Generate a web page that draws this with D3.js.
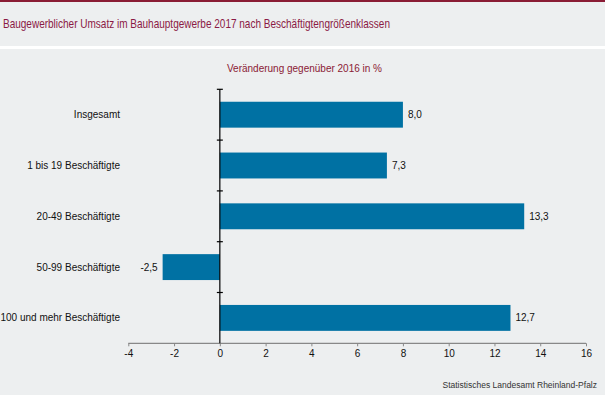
<!DOCTYPE html>
<html>
<head>
<meta charset="utf-8">
<script src="https://cdn.jsdelivr.net/npm/d3@7"></script>
<style>
  html, body { margin: 0; padding: 0; background: #fff; }
  svg { display: block; font-family: "Liberation Sans", Arial, sans-serif; }
</style>
</head>
<body>
<script>
const categories = ["Insgesamt", "1 bis 19 Beschäftigte", "20-49 Beschäftigte", "50-99 Beschäftigte", "100 und mehr Beschäftigte"];
const values = [8.0, 7.3, 13.3, -2.5, 12.7];
const xTicks = [-4, -2, 0, 2, 4, 6, 8, 10, 12, 14, 16];

const W = 605, H = 395;
const bg = "#edeff0";
const fmt = d => d3.format(".1f")(d).replace(".", ",").replace("\u2212", "-");

const svg = d3.select("body").append("svg")
  .attr("width", W)
  .attr("height", H);

// title block
svg.append("rect").attr("x", 0).attr("y", 0).attr("width", W).attr("height", H).attr("fill", "#fff");
svg.append("rect").attr("x", 0).attr("y", 0).attr("width", W).attr("height", 46).attr("fill", bg);
svg.append("rect").attr("x", 0).attr("y", 0).attr("width", W).attr("height", 2).attr("fill", "#8a1c35");
svg.append("rect").attr("x", 0).attr("y", 49).attr("width", W).attr("height", H - 49).attr("fill", bg);

svg.append("text")
  .attr("x", 3)
  .attr("y", 28)
  .attr("font-size", "13px")
  .attr("fill", "#8b1a45")
  .attr("textLength", 387)
  .attr("lengthAdjust", "spacingAndGlyphs")
  .text("Baugewerblicher Umsatz im Bauhauptgewerbe 2017 nach Beschäftigtengrößenklassen");

const x = d3.scaleLinear([-4, 16], [128.3, 586]);
const y = d3.scaleBand(categories, [89.3, 343.3]).paddingInner(0.49).paddingOuter(0.245);

svg.append("text")
  .attr("x", 304.5)
  .attr("y", 72)
  .attr("text-anchor", "middle")
  .attr("font-size", "10px")
  .attr("fill", "#8b2035")
  .attr("textLength", 155)
  .text("Veränderung gegenüber 2016 in %");

// bars
svg.append("g")
  .selectAll("rect")
  .data(values)
  .join("rect")
  .attr("x", d => x(Math.min(0, d)))
  .attr("width", d => Math.abs(x(d) - x(0)))
  .attr("y", (d, i) => y(categories[i]))
  .attr("height", y.bandwidth())
  .attr("fill", "#0071a3");

// value labels
svg.append("g")
  .selectAll("text")
  .data(values)
  .join("text")
  .attr("x", d => d >= 0 ? x(d) + 5 : x(d) - 5)
  .attr("y", (d, i) => y(categories[i]) + y.bandwidth() / 2)
  .attr("dy", "0.35em")
  .attr("text-anchor", d => d >= 0 ? "start" : "end")
  .attr("font-size", "10px")
  .attr("fill", "#111")
  .text(fmt);

// x axis
const xAxis = svg.append("g")
  .attr("transform", "translate(0,343.3)")
  .call(d3.axisBottom(x).tickValues(xTicks).tickSize(3).tickPadding(4).tickFormat(d => d));
xAxis.select(".domain").attr("stroke", "#888").attr("stroke-width", 1.2).attr("d", `M${x(-4)},0H${x(16)}`);
xAxis.selectAll(".tick line").attr("stroke", "#888");
xAxis.selectAll(".tick text")
  .attr("font-size", "10px")
  .attr("fill", "#111")
  .attr("font-family", "Liberation Sans, Arial, sans-serif");

// y axis at zero
const yAxisG = svg.append("g").attr("transform", `translate(${x(0)},0)`);
yAxisG.append("line")
  .attr("x1", 0).attr("x2", 0)
  .attr("y1", 89.3).attr("y2", 343.3)
  .attr("stroke", "#000").attr("stroke-width", 1.2);
const bounds = categories.map(c => y(c) - y.step() * y.paddingInner() / 2);
yAxisG.selectAll(".ytick")
  .data(bounds)
  .join("line")
  .attr("x1", -3).attr("x2", 3)
  .attr("y1", d => d).attr("y2", d => d)
  .attr("stroke", "#000").attr("stroke-width", 1.2);

// category labels
svg.append("g")
  .selectAll("text")
  .data(categories)
  .join("text")
  .attr("x", 120)
  .attr("y", d => y(d) + y.bandwidth() / 2)
  .attr("dy", "0.35em")
  .attr("text-anchor", "end")
  .attr("font-size", "10px")
  .attr("fill", "#111")
  .text(d => d);

svg.append("text")
  .attr("x", 597)
  .attr("y", 388)
  .attr("text-anchor", "end")
  .attr("font-size", "8.5px")
  .attr("fill", "#333")
  .text("Statistisches Landesamt Rheinland-Pfalz");
</script>
</body>
</html>
